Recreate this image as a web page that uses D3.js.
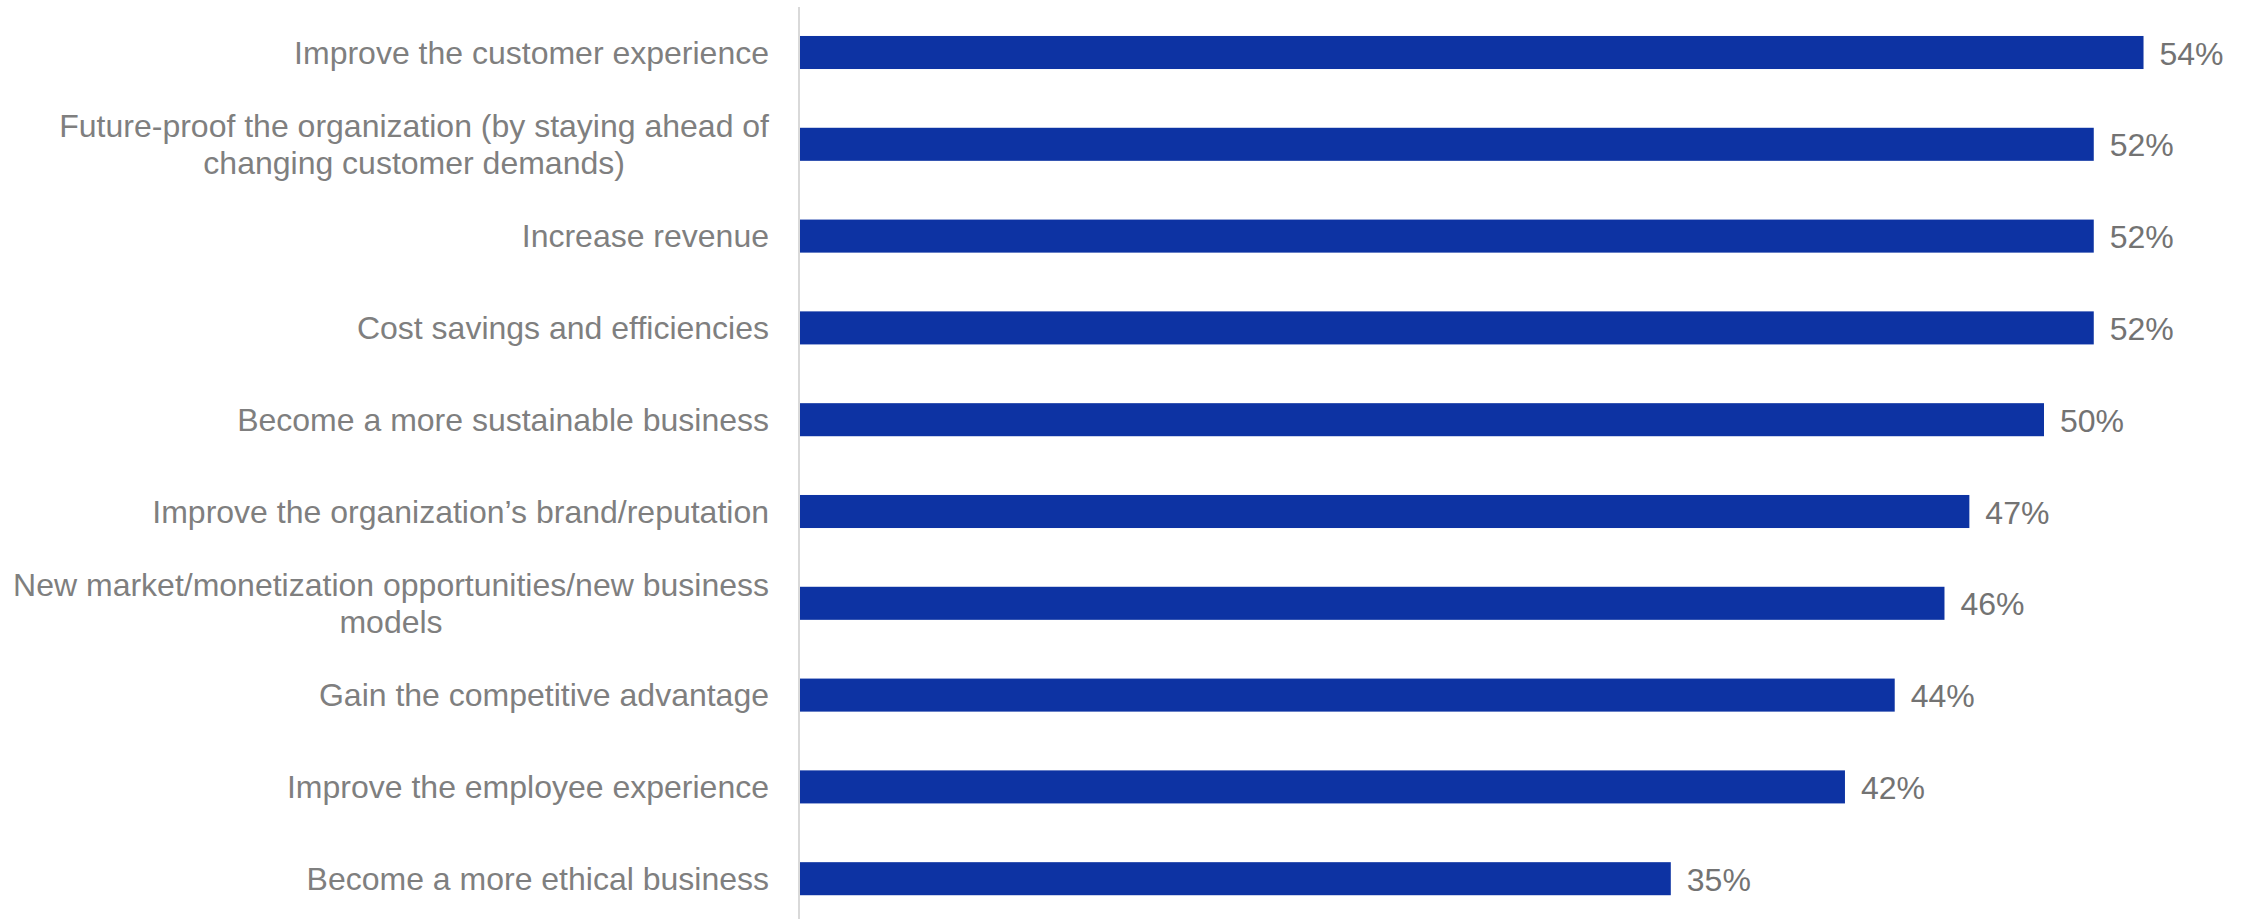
<!DOCTYPE html>
<html>
<head>
<meta charset="utf-8">
<script src="https://cdn.jsdelivr.net/npm/d3@7/dist/d3.min.js"></script>
<style>
  html, body { margin: 0; padding: 0; background: #ffffff; }
  svg { display: block; }
  text { font-family: "Liberation Sans", Arial, Helvetica, sans-serif; }
</style>
</head>
<body>
<svg id="chart" width="2251" height="919"></svg>
<script>
// Category labels (each entry is a list of lines)
const categories = [
  ["Improve the customer experience"],
  ["Future-proof the organization (by staying ahead of", "changing customer demands)"],
  ["Increase revenue"],
  ["Cost savings and efficiencies"],
  ["Become a more sustainable business"],
  ["Improve the organization\u2019s brand/reputation"],
  ["New market/monetization opportunities/new business", "models"],
  ["Gain the competitive advantage"],
  ["Improve the employee experience"],
  ["Become a more ethical business"]
];
// Share of respondents, percent
const values = [54, 52, 52, 52, 50, 47, 46, 44, 42, 35];

const width = 2251, height = 919;
const axisX = 800;
const barColor = "#0d33a3";
const textColor = "#7f7f7f";
const valueColor = "#737373";

const svg = d3.select("#chart");

const ids = categories.map((c, i) => i);

const y = d3.scaleBand()
  .domain(ids)
  .range([6.6, 924.6])
  .paddingInner(0.64)
  .paddingOuter(0.32);

const x = d3.scaleLinear()
  .domain([0, 60])
  .range([axisX, axisX + 24.88 * 60]);

// Bars
svg.append("g")
  .selectAll("rect")
  .data(values)
  .join("rect")
  .attr("x", x(0))
  .attr("y", (d, i) => y(i))
  .attr("width", d => x(d) - x(0))
  .attr("height", y.bandwidth())
  .attr("fill", barColor);

// Vertical category axis line
svg.append("line")
  .attr("x1", axisX - 1).attr("x2", axisX - 1)
  .attr("y1", 7).attr("y2", height)
  .attr("stroke", "#d9d9d9")
  .attr("stroke-width", 2);

// Category labels: block right-aligned to the axis, lines centred within it
const fontSize = 32;
const lineH = 37;
const labelRight = 769;
const labels = svg.append("g")
  .attr("font-size", fontSize)
  .attr("fill", textColor);

categories.forEach((lines, i) => {
  const cy = y(i) + y.bandwidth() / 2;
  const g = labels.append("g");
  const n = lines.length;
  const txt = g.selectAll("text")
    .data(lines)
    .join("text")
    .attr("y", (d, j) => cy + (j - (n - 1) / 2) * lineH + fontSize * 0.35)
    .text(d => d);
  if (n === 1) {
    txt.attr("x", labelRight).attr("text-anchor", "end");
  } else {
    // measure the widest line and centre every line on that block
    const widths = txt.nodes().map(nd => nd.getComputedTextLength());
    const w = d3.max(widths);
    const cx = labelRight - w / 2;
    txt.attr("x", cx).attr("text-anchor", "middle");
  }
});

// Value labels at bar ends
svg.append("g")
  .attr("font-size", fontSize)
  .attr("fill", valueColor)
  .selectAll("text")
  .data(values)
  .join("text")
  .attr("x", d => x(d) + 16)
  .attr("y", (d, i) => y(i) + y.bandwidth() / 2 + fontSize * 0.38)
  .text(d => d3.format("d")(d) + "%");
</script>
</body>
</html>
